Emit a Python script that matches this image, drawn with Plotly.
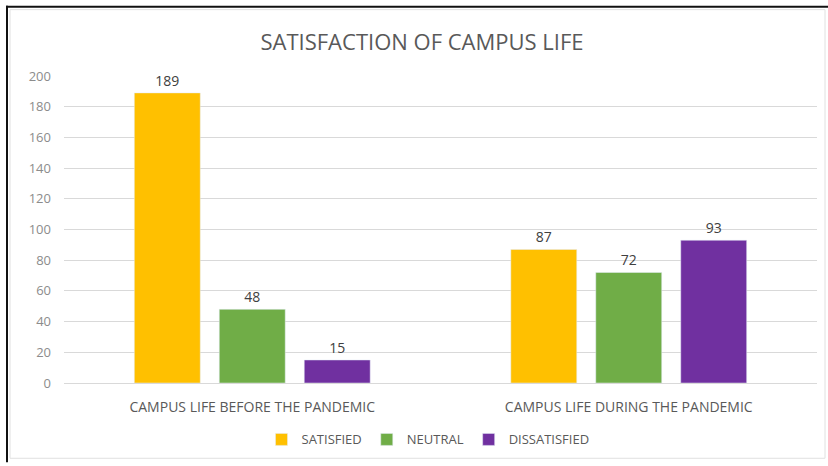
import plotly.graph_objects as go

categories = ["CAMPUS LIFE BEFORE THE PANDEMIC", "CAMPUS LIFE DURING THE PANDEMIC"]
series_names = ["SATISFIED", "NEUTRAL", "DISSATISFIED"]
satisfied = [189, 87]
neutral = [48, 72]
dissatisfied = [15, 93]
colors = ["#FFC000", "#70AD47", "#7030A0"]
y_ticks = [0, 20, 40, 60, 80, 100, 120, 140, 160, 180, 200]

W, H = 828, 466
L, R, T, B = 64, 11, 76, 80
pw, ph = W - L - R, H - T - B

def px(x):
    return (x - L) / pw

def py(y):
    return (H - B - y) / ph

FONT = "Open Sans"

fig = go.Figure()
for name, vals, col in zip(series_names, [satisfied, neutral, dissatisfied], colors):
    fig.add_trace(go.Bar(
        x=categories, y=vals, name=name, marker_color=col,
        text=vals, textposition="outside", cliponaxis=False,
        textfont=dict(family=FONT, size=14, color="#404040"),
    ))

fig.update_layout(
    width=W, height=H,
    margin=dict(l=L, r=R, t=T, b=B),
    paper_bgcolor="white", plot_bgcolor="white",
    barmode="group", bargap=0.323, bargroupgap=0.224,
    title=dict(text="SATISFACTION OF CAMPUS LIFE", x=422 / W, xanchor="center",
               y=1 - 42 / H, yanchor="middle", yref="container",
               font=dict(family=FONT, size=22, color="#595959")),
    legend=dict(orientation="h", x=px(428), xanchor="center", y=py(443), yanchor="middle",
                font=dict(family=FONT, size=13, color="#595959"),
                itemwidth=30, traceorder="normal"),
    font=dict(family=FONT, color="#595959"),
    xaxis=dict(showline=True, linecolor="#d9d9d9", linewidth=1, showgrid=False,
               tickfont=dict(family=FONT, size=14, color="#595959"), ticks="",
               ticklabelstandoff=11),
    yaxis=dict(range=[0, 200], tickvals=y_ticks, showgrid=True, gridcolor="#d9d9d9",
               zeroline=False, showline=False, ticks="",
               tickfont=dict(family=FONT, size=13, color="#8c8c8c"),
               ticklabelstandoff=12),
    shapes=[
        dict(type="rect", xref="paper", yref="paper", x0=px(10), x1=px(825), y0=py(462), y1=py(9),
             line=dict(color="#e0e0e0", width=1), fillcolor="rgba(0,0,0,0)", layer="below"),
        dict(type="line", xref="paper", yref="paper", x0=px(6), x1=px(828), y0=py(6), y1=py(6),
             line=dict(color="#111111", width=2)),
        dict(type="line", xref="paper", yref="paper", x0=px(7), x1=px(7), y0=py(5), y1=py(466),
             line=dict(color="#111111", width=2)),
    ],
)

fig.write_html("out.html", config={"displayModeBar": False},
               post_script="document.body.style.margin='0';document.body.style.overflow='hidden';")
